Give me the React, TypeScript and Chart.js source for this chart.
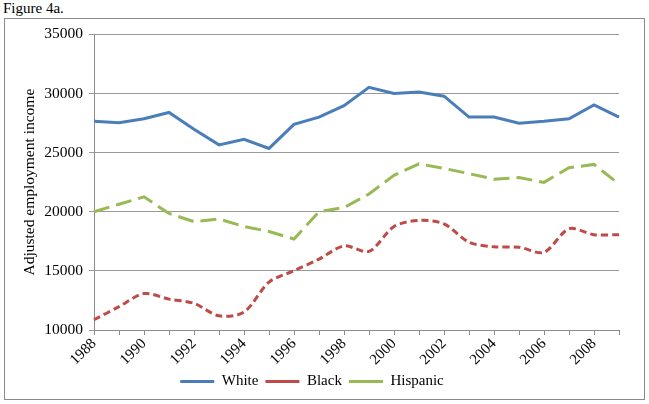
import React, { useEffect, useRef } from "react";
import { Chart, registerables } from "chart.js";

Chart.register(...registerables);

const years = [
  "1988", "1989", "1990", "1991", "1992", "1993", "1994", "1995", "1996", "1997", "1998",
  "1999", "2000", "2001", "2002", "2003", "2004", "2005", "2006", "2007", "2008", "2009",
];

const white = [
  27650, 27530, 27860, 28390, 26980, 25650, 26120, 25350, 27390, 28000, 28970,
  30520, 30000, 30130, 29770, 28000, 28000, 27480, 27640, 27860, 29030, 28000,
];

const black = [
  10870, 11970, 13080, 12610, 12250, 11200, 11510, 14050, 15010, 15990, 17110,
  16650, 18750, 19270, 18970, 17420, 17030, 17000, 16570, 18560, 18060, 18060,
];

const hispanic = [
  20000, 20630, 21260, 19850, 19160, 19380, 18750, 18330, 17690, 20000, 20350,
  21500, 23080, 24050, 23660, 23220, 22750, 22890, 22480, 23720, 24000, 22340,
];

const seriesNames = ["White", "Black", "Hispanic"];
const yTitle = "Adjusted employment income";
const figureTitle = "Figure 4a.";

const FONT = '"Liberation Serif", "Times New Roman", serif';

export default function App() {
  const canvasRef = useRef<HTMLCanvasElement | null>(null);

  useEffect(() => {
    const canvas = canvasRef.current;
    if (!canvas) return;
    const chart = new Chart(canvas, {
      type: "line",
      data: {
        labels: years,
        datasets: [
          {
            label: seriesNames[0],
            data: white,
            borderColor: "#4A7EBB",
            backgroundColor: "#4A7EBB",
            borderWidth: 3,
            pointRadius: 0,
            pointStyle: "line",
            tension: 0,
          },
          {
            label: seriesNames[1],
            data: black,
            borderColor: "#BE4B48",
            backgroundColor: "#BE4B48",
            borderWidth: 3,
            borderDash: [7, 4],
            pointRadius: 0,
            pointStyle: "line",
            tension: 0.3,
          },
          {
            label: seriesNames[2],
            data: hispanic,
            borderColor: "#98B954",
            backgroundColor: "#98B954",
            borderWidth: 3,
            borderDash: [16, 7],
            pointRadius: 0,
            pointStyle: "line",
            tension: 0,
          },
        ],
      },
      options: {
        responsive: false,
        animation: false,
        layout: { padding: { left: 0, right: 25, top: 10, bottom: 0 } },
        plugins: {
          legend: {
            position: "bottom",
            labels: {
              usePointStyle: true,
              pointStyleWidth: 34,
              color: "#000",
              font: { family: FONT, size: 15 },
              padding: 7,
            },
          },
          tooltip: { enabled: false },
        },
        scales: {
          x: {
            type: "category",
            offset: false,
            afterFit: (s: any) => {
              s.height = 37;
            },
            grid: {
              display: true,
              drawOnChartArea: false,
              drawTicks: true,
              tickLength: 5,
              color: "#8c8c8c",
            },
            border: { display: true, color: "#8c8c8c", width: 1 },
            ticks: {
              autoSkip: false,
              minRotation: 45,
              maxRotation: 45,
              color: "#000",
              padding: 0,
              font: { family: FONT, size: 15 },
              callback: (_v: any, i: number) => (i % 2 === 0 ? years[i] : ""),
            },
          },
          y: {
            min: 10000,
            max: 35000,
            afterFit: (s: any) => {
              s.width = 89;
            },
            grid: {
              color: "#9a9a9a",
              drawTicks: true,
              tickLength: 5,
            },
            border: { display: true, color: "#8c8c8c", width: 1 },
            ticks: {
              stepSize: 5000,
              color: "#000",
              padding: 6,
              font: { family: FONT, size: 15.5 },
              callback: (v: any) => String(v),
            },
            title: {
              display: true,
              text: yTitle,
              color: "#000",
              font: { family: FONT, size: 15.5 },
              padding: { top: 16, bottom: 0 },
            },
          },
        },
      },
    });
    return () => chart.destroy();
  }, []);

  return (
    <div
      style={{
        position: "fixed",
        left: 0,
        top: 0,
        width: 649,
        height: 404,
        background: "#fff",
        fontFamily: FONT,
      }}
    >
      <div style={{ position: "absolute", left: 3, top: 0, fontSize: 15, lineHeight: "17px", color: "#000" }}>
        {figureTitle}
      </div>
      <div
        style={{
          position: "absolute",
          left: 4,
          top: 18,
          width: 639,
          height: 380,
          border: "1px solid #8a8a8a",
        }}
      >
        <canvas ref={canvasRef} width={639} height={380} style={{ display: "block" }} />
      </div>
    </div>
  );
}
